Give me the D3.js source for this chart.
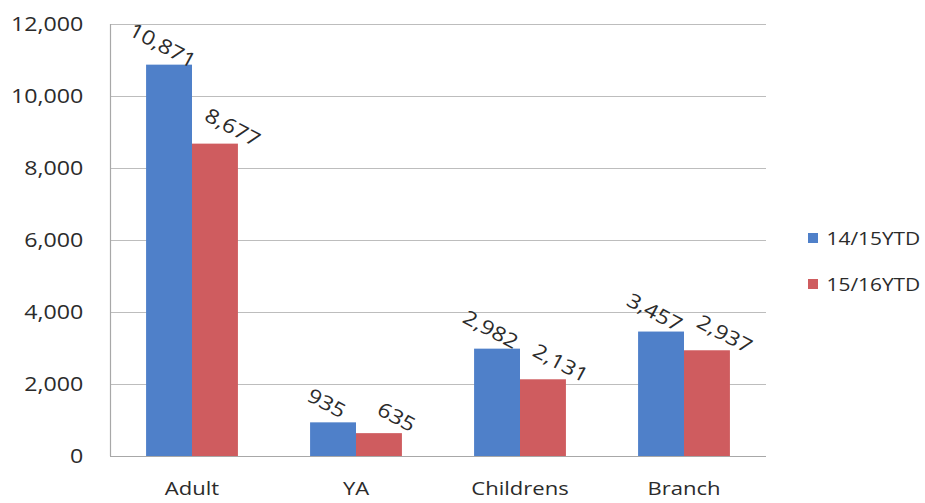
<!DOCTYPE html>
<html>
<head>
<meta charset="utf-8">
<script src="https://cdn.jsdelivr.net/npm/d3@7"></script>
<style>
	body { margin: 0; background: #fff; }
	text { font-family: "Open Sans", "Noto Sans", sans-serif; fill: #2b2b2b; }
</style>
</head>
<body>
<div id="chart"></div>
<script>
let categories = ["Adult", "YA", "Childrens", "Branch"];
let seriesNames = ["14/15YTD", "15/16YTD"];
let values1415 = [10871, 935, 2982, 3457];
let values1516 = [8677, 635, 2131, 2937];
let yTicks = [0, 2000, 4000, 6000, 8000, 10000, 12000];
let colors = ["#4f80c9", "#cf5c5f"];

let svg;
let x, xSub, y;
// the source picture is a bit wider than tall, so text is stretched sideways
let stretch = 1.16;

//
//	initD3
//
initD3 = function () {
	var margin = { top: 24, right: 159, bottom: 47, left: 110 };
	var width = 925 - margin.left - margin.right;
	var height = 503 - margin.top - margin.bottom;

	svg = d3
		.select("#chart")
		.append("svg")
		.attr("width", 925)
		.attr("height", 503)
		.append("g")
		.attr("transform", "translate(" + margin.left + "," + margin.top + ")");

	x = d3.scaleBand().domain(categories).range([0, width]).paddingInner(0.44).paddingOuter(0.22);
	xSub = d3.scaleBand().domain(seriesNames).range([0, x.bandwidth()]);
	y = d3.scaleLinear().domain([0, 12000]).range([height, 0]);

	// gridlines
	svg.append("g")
		.selectAll("line")
		.data(yTicks)
		.enter()
		.append("line")
		.attr("x1", 0)
		.attr("x2", width)
		.attr("y1", (d) => y(d) + 0.5)
		.attr("y2", (d) => y(d) + 0.5)
		.attr("stroke", (d) => (d === 0 ? "#a8a8a8" : "#bdbdbd"))
		.attr("stroke-width", 1.2);

	svg.append("line")
		.attr("x1", 0.5).attr("x2", 0.5)
		.attr("y1", 0).attr("y2", height)
		.attr("stroke", "#a8a8a8").attr("stroke-width", 1.2);

	// y tick labels
	let yAxis = svg.append("g").call(
		d3.axisLeft(y).tickValues(yTicks).tickSize(0).tickPadding(23).tickFormat(d3.format(","))
	);
	yAxis.select(".domain").remove();
	yAxis.selectAll("text")
		.style("font-size", "20px")
		.attr("fill", "#2b2b2b")
		.attr("transform", "scale(" + stretch + ",1)");

	// x labels
	let xAxis = svg.append("g")
		.attr("transform", "translate(0," + height + ")")
		.call(d3.axisBottom(x).tickSize(0).tickPadding(26));
	xAxis.select(".domain").remove();
	xAxis.selectAll("text")
		.style("font-size", "19px")
		.attr("fill", "#2b2b2b")
		.attr("transform", "scale(" + stretch + ",1)");

	let rows = categories.map((c, i) => ({
		cat: c,
		vals: [
			{ s: seriesNames[0], v: values1415[i], c: colors[0], dx: -6, dy: -20 },
			{ s: seriesNames[1], v: values1516[i], c: colors[1], dx: 18, dy: -17 },
		],
	}));

	let groups = svg.selectAll(".grp")
		.data(rows)
		.enter()
		.append("g")
		.attr("class", "grp")
		.attr("transform", (d) => "translate(" + x(d.cat) + ",0)");

	groups.selectAll("rect")
		.data((d) => d.vals)
		.enter()
		.append("rect")
		.attr("x", (d) => xSub(d.s))
		.attr("y", (d) => y(d.v))
		.attr("width", xSub.bandwidth())
		.attr("height", (d) => height - y(d.v))
		.attr("fill", (d) => d.c);

	// rotated value labels
	groups.selectAll(".lbl")
		.data((d) => d.vals)
		.enter()
		.append("text")
		.attr("class", "lbl")
		.attr("text-anchor", "middle")
		.attr("dominant-baseline", "central")
		.style("font-size", "20px")
		.attr("transform", (d) =>
			"translate(" + (xSub(d.s) + xSub.bandwidth() / 2 + d.dx) + "," + (y(d.v) + d.dy) + ") rotate(28) scale(" + stretch + ",1)"
		)
		.text((d) => d3.format(",")(d.v));

	// legend
	let legend = svg.append("g")
		.attr("transform", "translate(" + (width + 42) + ",214)");
	let items = legend.selectAll("g")
		.data(seriesNames)
		.enter()
		.append("g")
		.attr("transform", (d, i) => "translate(0," + i * 46 + ")");
	items.append("rect")
		.attr("width", 10).attr("height", 10)
		.attr("y", -5)
		.attr("fill", (d, i) => colors[i]);
	items.append("text")
		.attr("x", 16)
		.attr("dominant-baseline", "central")
		.style("font-size", "18px")
		.attr("transform", "scale(" + stretch + ",1)")
		.text((d) => d);
};

initD3();
</script>
</body>
</html>
